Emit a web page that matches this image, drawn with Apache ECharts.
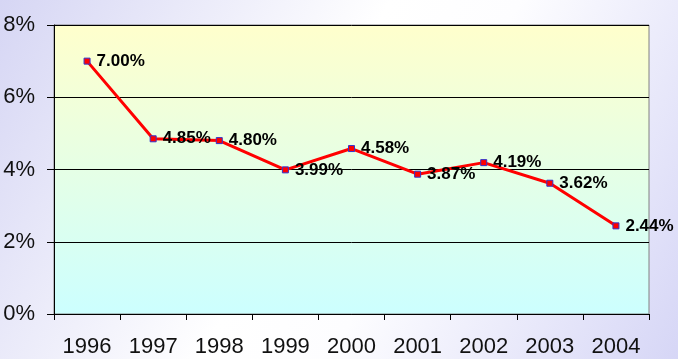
<!DOCTYPE html>
<html><head><meta charset="utf-8">
<script src="https://cdn.jsdelivr.net/npm/echarts@6/dist/echarts.min.js"></script>
<style>html,body{margin:0;padding:0;}#c{width:678px;height:359px;}</style>
</head><body><div id="c"></div>
<script>
var years = ['1996','1997','1998','1999','2000','2001','2002','2003','2004'];
var rates = [7.00, 4.85, 4.80, 3.99, 4.58, 3.87, 4.19, 3.62, 2.44];
var yTicks = [0, 2, 4, 6, 8];

var chart = echarts.init(document.getElementById('c'));
chart.setOption({
  animation: false,
  backgroundColor: {type:'linear', x:0, y:0, x2:1, y2:1, colorStops:[
    {offset:0, color:'#d6d6f4'}, {offset:0.45, color:'#ffffff'}, {offset:0.6, color:'#fdfdff'}, {offset:1, color:'#d6d6f6'}]},
  grid: {left:54, top:25, right:29, bottom:45, show:true, borderColor:'#808080', borderWidth:1,
    backgroundColor: {type:'linear', x:0, y:0, x2:0, y2:1, colorStops:[
      {offset:0, color:'#ffffcc'}, {offset:1, color:'#ccffff'}]}},
  xAxis: {type:'category', data: years, boundaryGap:true,
    axisLine:{lineStyle:{color:'#000', width:1}},
    axisTick:{show:true, length:6, lineStyle:{color:'#000'}},
    axisLabel:{color:'#111', fontSize:22, fontFamily:'Liberation Sans, Arial', margin:22}},
  yAxis: {type:'value', min:yTicks[0], max:yTicks[yTicks.length-1], interval:2,
    axisLine:{show:true, lineStyle:{color:'#000', width:1}},
    axisTick:{show:true, length:7, lineStyle:{color:'#000'}},
    splitLine:{show:true, lineStyle:{color:'#000', width:1}},
    axisLabel:{formatter:'{value}%', color:'#111', fontSize:22, fontFamily:'Liberation Sans, Arial', margin:19}},
  series: [{type:'line', data: rates, symbol:'rect', symbolSize:6,
    lineStyle:{color:'#ff0000', width:3},
    itemStyle:{color:'#ff0000', borderColor:'#3333cc', borderWidth:1},
    label:{show:true, position:'right', distance:6, color:'#000', fontWeight:'bold', fontSize:17,
      fontFamily:'Liberation Sans, Arial', formatter:function(p){return p.value.toFixed(2)+'%';}}}]
});
</script></body></html>
